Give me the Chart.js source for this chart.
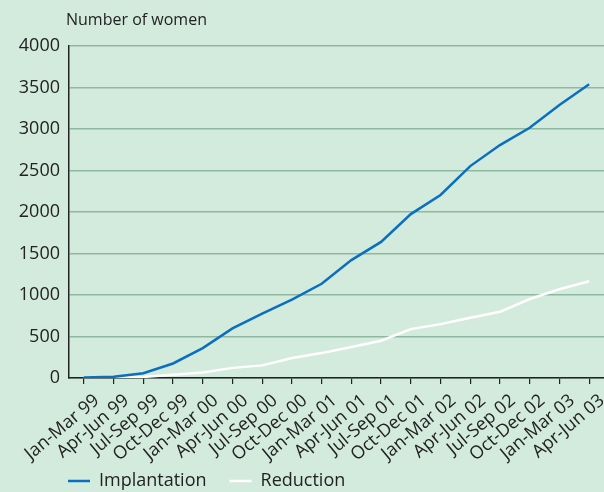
<!DOCTYPE html>
<html>
<head>
<meta charset="utf-8">
<script src="https://cdn.jsdelivr.net/npm/chart.js@4"></script>
<style>
  html, body { margin: 0; padding: 0; background: #d3ebdd; }
  #wrap { width: 604px; height: 492px; }
</style>
</head>
<body>
<div id="wrap"><canvas id="chart"></canvas></div>
<script>
// quarters from Jan-Mar 99 to Apr-Jun 03
const quarters = ['Jan-Mar 99', 'Apr-Jun 99', 'Jul-Sep 99', 'Oct-Dec 99',
  'Jan-Mar 00', 'Apr-Jun 00', 'Jul-Sep 00', 'Oct-Dec 00',
  'Jan-Mar 01', 'Apr-Jun 01', 'Jul-Sep 01', 'Oct-Dec 01',
  'Jan-Mar 02', 'Apr-Jun 02', 'Jul-Sep 02', 'Oct-Dec 02',
  'Jan-Mar 03', 'Apr-Jun 03'];
const implantation = [6, 14, 58, 175, 360, 597, 775, 945, 1135, 1420, 1640, 1975, 2205, 2553, 2806, 3015, 3290, 3540];
const reduction = [0, 3, 12, 40, 67, 122, 152, 240, 300, 373, 449, 589, 649, 725, 797, 952, 1070, 1165];
const yTicks = [0, 500, 1000, 1500, 2000, 2500, 3000, 3500, 4000];

const font = "'Open Sans', sans-serif";
const ink = '#222222';

// y-axis caption above the axis + moving the legend under the plot
const extras = {
    id: 'extras',
    afterLayout(chart) {
        const pad = chart.options.plugins.legend.labels.padding;
        chart.legend.left = chart.chartArea.left - 1 - pad;
        chart.legend.top = chart.chartArea.bottom + 71;
    },
    afterDraw(chart) {
        const ctx = chart.ctx;
        ctx.save();
        ctx.font = '16px ' + font;
        ctx.fillStyle = ink;
        ctx.textBaseline = 'middle';
        ctx.fillText('Number of women', chart.chartArea.left - 3, 20);
        ctx.restore();
    }
};

new Chart(document.getElementById('chart'), {
    type: 'line',
    data: {
        labels: quarters,
        datasets: [{
            label: 'Implantation',
            data: implantation,
            borderColor: '#0a6fc0',
            backgroundColor: '#0a6fc0',
            borderWidth: 2.5,
            pointRadius: 0,
            tension: 0
        }, {
            label: 'Reduction',
            data: reduction,
            borderColor: '#ffffff',
            backgroundColor: '#ffffff',
            borderWidth: 2.5,
            pointRadius: 0,
            tension: 0
        }]
    },
    options: {
        responsive: true,
        maintainAspectRatio: false,
        animation: false,
        layout: { padding: { top: 46, left: 0, right: 0, bottom: -27 } },
        scales: {
            x: {
                offset: true,
                afterFit(scale) {
                    scale.height = 90;
                    scale.paddingRight = 0;
                },
                grid: { drawOnChartArea: false, color: ink, tickLength: 6, lineWidth: 1.2 },
                border: { color: ink, width: 1.5 },
                ticks: {
                    autoSkip: false,
                    minRotation: 40,
                    maxRotation: 40,
                    labelOffset: 13,
                    padding: 6,
                    color: ink,
                    font: { family: font, size: 18 }
                }
            },
            y: {
                min: 0,
                max: 4000,
                afterFit(scale) { scale.width = 69; },
                afterBuildTicks(scale) { scale.ticks = yTicks.map(v => ({ value: v })); },
                grid: { color: '#8fb8a0', lineWidth: 1.5, drawTicks: false },
                border: { color: ink, width: 1.5 },
                ticks: {
                    padding: 9,
                    color: ink,
                    font: { family: font, size: 18 },
                    callback: v => String(v)
                }
            }
        },
        plugins: {
            legend: {
                position: 'bottom',
                align: 'start',
                labels: {
                    usePointStyle: true,
                    pointStyle: 'line',
                    pointStyleWidth: 22,
                    padding: 23,
                    color: ink,
                    font: { family: font, size: 18 }
                }
            },
            tooltip: { enabled: false }
        }
    },
    plugins: [extras]
});
</script>
</body>
</html>
